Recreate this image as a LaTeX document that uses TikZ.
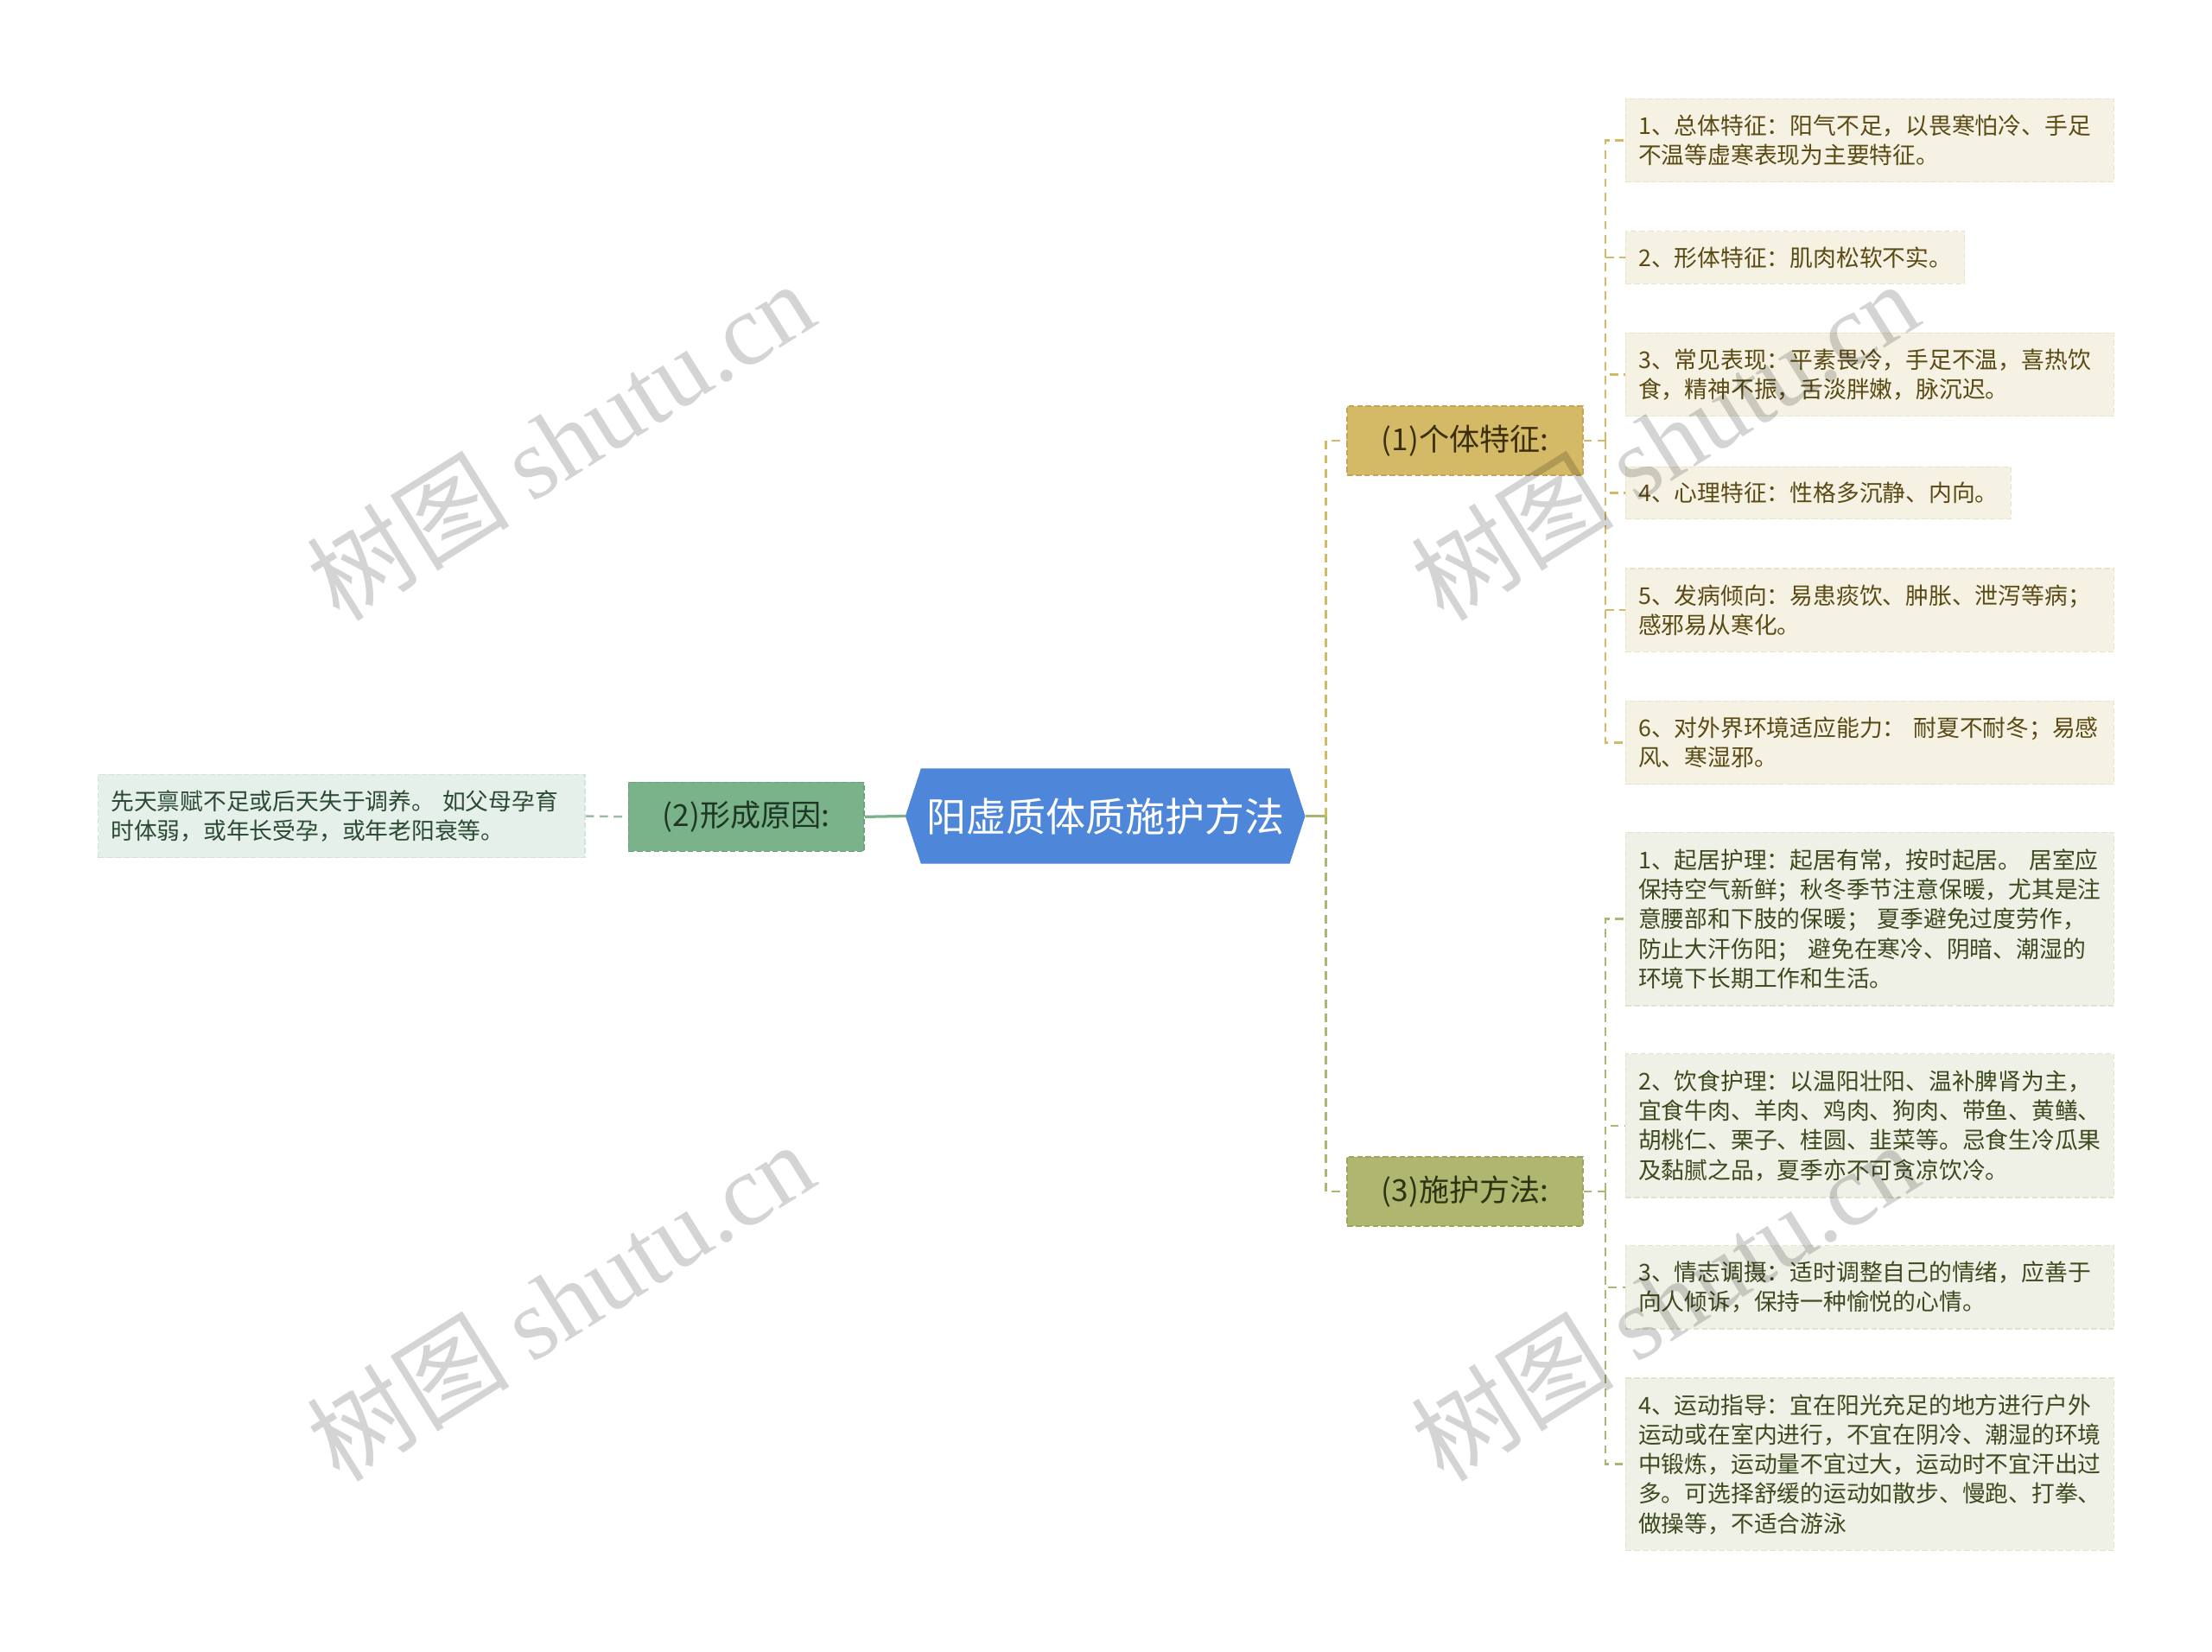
\documentclass[tikz,border=0pt]{standalone}
\usepackage{fontspec}
\setmainfont{Noto Sans CJK SC}
\newfontfamily\wmlatin{Liberation Serif}
\usetikzlibrary{backgrounds}
\definecolor{rootblue}{HTML}{4E86D9}
\definecolor{grnfill}{HTML}{7AB38A}
\definecolor{grnline}{HTML}{6C9F7A}
\definecolor{grntext}{HTML}{1E3626}
\definecolor{grnleaf}{HTML}{E5F0EA}
\definecolor{grnleafline}{HTML}{D3E2D8}
\definecolor{grnleaftext}{HTML}{2C4A33}
\definecolor{goldfill}{HTML}{D4B967}
\definecolor{goldline}{HTML}{C2A655}
\definecolor{goldtext}{HTML}{3A2E0B}
\definecolor{goldleaf}{HTML}{F5F2E3}
\definecolor{goldleafline}{HTML}{E9E3CC}
\definecolor{goldleaftext}{HTML}{5B4A14}
\definecolor{olvfill}{HTML}{AEB66F}
\definecolor{olvline}{HTML}{9CA45E}
\definecolor{olvtext}{HTML}{2D3312}
\definecolor{olvleaf}{HTML}{EFF0E6}
\definecolor{olvleafline}{HTML}{E0E2D2}
\definecolor{olvleaftext}{HTML}{3D4A1E}
\definecolor{connolv}{HTML}{A9B56B}
\definecolor{conngrn}{HTML}{9BBBA5}
\begin{document}
\begin{tikzpicture}[x=1pt,y=-1pt,
  rootnode/.style={rectangle,minimum width=283pt,minimum height=67pt,inner sep=0pt,text=white,font=\fontsize{28.2}{34}\selectfont},
  branchbox/.style={rectangle,minimum width=167pt,minimum height=49pt,inner sep=0pt,font=\fontsize{21.5}{26}\selectfont,line width=1pt,dash pattern=on 4pt off 2pt},
  leafbox/.style={rectangle,inner xsep=9pt,inner ysep=0pt,align=left,font=\fontsize{16.4}{21}\selectfont,line width=0.8pt,dash pattern=on 4pt off 2pt},
  wide/.style={text width=328pt},
  goldleafbox/.style={leafbox,fill=goldleaf,draw=goldleafline,text=goldleaftext},
  olvleafbox/.style={leafbox,fill=olvleaf,draw=olvleafline,text=olvleaftext},
  goldconn/.style={draw=goldfill,line width=1.5pt,dash pattern=on 6pt off 4pt},
  olvconn/.style={draw=olvfill,line width=1.5pt,dash pattern=on 6pt off 4pt},
  watermark/.style={rotate=32,text=black,opacity=0.17,font=\fontsize{72}{84}\selectfont}
]
\useasboundingbox (0,0) rectangle (1568,1170.5);

% root
\node[rootnode] (root) at (783.5,578.5) {阳虚质体质施护方法};
\begin{scope}[on background layer]
\fill[rootblue] (root.west) -- ([xshift=11pt]root.north west) -- ([xshift=-11pt]root.north east)
  -- (root.east) -- ([xshift=-11pt]root.south east) -- ([xshift=11pt]root.south west) -- cycle;
\end{scope}

% left branch
\node[branchbox,fill=grnfill,draw=grnline,text=grntext] (b2) at (529,579) {(2)形成原因:};
\node[leafbox,fill=grnleaf,draw=grnleafline,text=grnleaftext,text width=327pt,minimum height=59pt,anchor=east] (l2) at (415,578.5)
  {先天禀赋不足或后天失于调养。 如父母孕育\\时体弱，或年长受孕，或年老阳衰等。};

% right branches
\node[branchbox,fill=goldfill,draw=goldline,text=goldtext] (b1) at (1038.5,312.5) {(1)个体特征:};
\node[branchbox,fill=olvfill,draw=olvline,text=olvtext] (b3) at (1038.5,844.5) {(3)施护方法:};

% leaves of (1)
\node[goldleafbox,wide,minimum height=59pt,anchor=west] (c1) at (1152,99.5)
  {1、总体特征：阳气不足，以畏寒怕冷、手足\\不温等虚寒表现为主要特征。};
\node[goldleafbox,minimum height=37pt,anchor=west] (c2) at (1152,182.5)
  {2、形体特征：肌肉松软不实。};
\node[goldleafbox,wide,minimum height=59pt,anchor=west] (c3) at (1152,265.5)
  {3、常见表现：平素畏冷，手足不温，喜热饮\\食，精神不振，舌淡胖嫩，脉沉迟。};
\node[goldleafbox,minimum height=37pt,anchor=west] (c4) at (1152,349.5)
  {4、心理特征：性格多沉静、内向。};
\node[goldleafbox,wide,minimum height=59pt,anchor=west] (c5) at (1152,432.5)
  {5、发病倾向：易患痰饮、肿胀、泄泻等病；\\感邪易从寒化。};
\node[goldleafbox,wide,minimum height=59pt,anchor=west] (c6) at (1152,526.5)
  {6、对外界环境适应能力： 耐夏不耐冬；易感\\风、寒湿邪。};

% leaves of (3)
\node[olvleafbox,wide,minimum height=123pt,anchor=west] (d1) at (1152,651.5)
  {1、起居护理：起居有常，按时起居。 居室应\\保持空气新鲜；秋冬季节注意保暖，尤其是注\\意腰部和下肢的保暖； 夏季避免过度劳作，\\防止大汗伤阳； 避免在寒冷、阴暗、潮湿的\\环境下长期工作和生活。};
\node[olvleafbox,wide,minimum height=102pt,anchor=west] (d2) at (1152,798)
  {2、饮食护理：以温阳壮阳、温补脾肾为主，\\宜食牛肉、羊肉、鸡肉、狗肉、带鱼、黄鳝、\\胡桃仁、栗子、桂圆、韭菜等。忌食生冷瓜果\\及黏腻之品，夏季亦不可贪凉饮冷。};
\node[olvleafbox,wide,minimum height=59pt,anchor=west] (d3) at (1152,912.5)
  {3、情志调摄：适时调整自己的情绪，应善于\\向人倾诉，保持一种愉悦的心情。};
\node[olvleafbox,wide,minimum height=122pt,anchor=west] (d4) at (1152,1038)
  {4、运动指导：宜在阳光充足的地方进行户外\\运动或在室内进行，不宜在阴冷、潮湿的环境\\中锻炼，运动量不宜过大，运动时不宜汗出过\\多。可选择舒缓的运动如散步、慢跑、打拳、\\做操等，不适合游泳};

% hubs
\coordinate (hub) at (940,578.5);
\coordinate (h1) at (1138,312.5);
\coordinate (h3) at (1138,844.5);

% connectors
\begin{scope}[on background layer]
\draw[grnfill,line width=2pt] (b2.east) -- (root.west);
\draw[conngrn,line width=1.5pt,dash pattern=on 6pt off 4pt] (l2.east) -- (b2.west);
\draw[connolv,line width=2pt] (root.east) -- (hub);
\draw[goldconn] (hub) |- (b1.west);
\draw[olvconn] (hub) |- (b3.west);
\draw[goldconn] (b1.east) -- (h1);
\foreach \n in {c1,c2,c3,c4,c5,c6} \draw[goldconn] (h1) |- (\n.west);
\draw[olvconn] (b3.east) -- (h3);
\foreach \n in {d1,d2,d3,d4} \draw[olvconn] (h3) |- (\n.west);
\end{scope}

% watermarks
\node[watermark] (w1) at (397,312) {树图 {\wmlatin shutu.cn}};
\node[watermark] (w2) at (1180,312) {树图 {\wmlatin shutu.cn}};
\node[watermark] (w3) at (397,922) {树图 {\wmlatin shutu.cn}};
\node[watermark] (w4) at (1180,922) {树图 {\wmlatin shutu.cn}};
\end{tikzpicture}
\end{document}
